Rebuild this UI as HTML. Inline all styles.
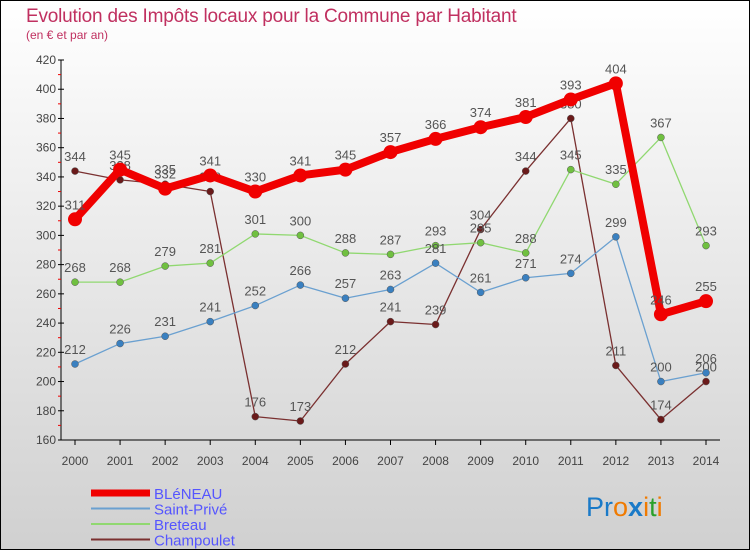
<!DOCTYPE html>
<html><head><meta charset="utf-8"><style>
body{margin:0}
svg{display:block}
text{font-family:"Liberation Sans",sans-serif}
</style></head><body>
<svg id="c" width="750" height="550" xmlns="http://www.w3.org/2000/svg">
<defs><linearGradient id="bg" x1="0" y1="0" x2="0" y2="1"><stop offset="0" stop-color="#ffffff"/><stop offset="1" stop-color="#d0d0d0"/></linearGradient></defs>
<rect x="0.5" y="0.5" width="749" height="549" fill="url(#bg)" stroke="#000"/>
<text x="26" y="22" font-size="19" fill="#c03060" letter-spacing="-0.2">Evolution des Impôts locaux pour la Commune par Habitant</text>
<text x="26" y="39" font-size="12" fill="#c03060">(en € et par an)</text>
<g id="axes"></g>
<g id="series"></g>
<g id="legend"></g>
<text x="586" y="516" font-size="27"><tspan fill="#1a7ac8">Pr</tspan><tspan fill="#f07a00">o</tspan><tspan fill="#1a7ac8" font-weight="bold">x</tspan><tspan fill="#f07a00">i</tspan><tspan fill="#2aa02a">t</tspan><tspan fill="#f07a00">i</tspan></text>
</svg>
<script>
const years=[2000,2001,2002,2003,2004,2005,2006,2007,2008,2009,2010,2011,2012,2013,2014];
const yTicks=[160,180,200,220,240,260,280,300,320,340,360,380,400,420];
const bleneau=[311,345,332,341,330,341,345,357,366,374,381,393,404,246,255];
const saintPrive=[212,226,231,241,252,266,257,263,281,261,271,274,299,200,206];
const breteau=[268,268,279,281,301,300,288,287,293,295,288,345,335,367,293];
const champoulet=[344,338,335,330,176,173,212,241,239,304,344,380,211,174,200];
const NS="http://www.w3.org/2000/svg";
const X=i=>75+i*(706-75)/(years.length-1);
const Y=v=>440-(v-160)*(380/260);
function mk(t,a,p){const e=document.createElementNS(NS,t);for(const k in a)e.setAttribute(k,a[k]);p.appendChild(e);return e;}
const ax=document.getElementById('axes');
const yl=mk('line',{x1:61,y1:60,x2:61,y2:440,stroke:'#000'},ax);


const xl=mk('line',{x1:61,y1:440,x2:720,y2:440,stroke:'#000'},ax);


yTicks.forEach((v,i)=>{
 mk('line',{x1:58,y1:Y(v),x2:64,y2:Y(v),stroke:'#000'},ax);
 if(i<yTicks.length-1) mk('line',{x1:58,y1:Y(v+10),x2:61,y2:Y(v+10),stroke:'#e00'},ax);
 const t=mk('text',{x:56,y:Y(v)+4,'font-size':12,'text-anchor':'end',fill:'#444'},ax);
 t.textContent=v;
 
 
});
years.forEach((y,i)=>{
 mk('line',{x1:X(i),y1:440,x2:X(i),y2:445,stroke:'#000'},ax);
 const t=mk('text',{x:X(i),y:465,'font-size':12,'text-anchor':'middle',fill:'#444'},ax);
 t.textContent=y;
 
 
});
const sg=document.getElementById('series');
const defs=[
 {d:champoulet,c:'#7a3030',dot:'#6a1a1a',w:1.3,r:3.5,n:'champoulet'},
 {d:breteau,c:'#90d870',dot:'#70c040',w:1.3,r:3.5,n:'breteau'},
 {d:saintPrive,c:'#6aa0d0',dot:'#3a80c0',w:1.3,r:3.5,n:'saint-prive'},
 {d:bleneau,c:'#f00000',dot:'#f00000',w:8,r:7,n:'bleneau'}
];
defs.forEach(s=>{
 const g=mk('g',{},sg);
 
 
 const l=mk('polyline',{points:s.d.map((v,i)=>X(i)+','+Y(v)).join(' '),fill:'none',stroke:s.c,'stroke-width':s.w,'stroke-linejoin':'round'},g);
 
 
 s.d.forEach((v,i)=>{
  const p=mk('circle',{cx:X(i),cy:Y(v),r:s.r,fill:s.dot,stroke:s.w>2?'none':'#555','stroke-width':0.5},g);
  
  
  const t=mk('text',{x:X(i),y:Y(v)-10,'font-size':13,'text-anchor':'middle',fill:'#555'},g);
  t.textContent=v;
  
  
 });
});
const lg=document.getElementById('legend');
[['BLéNEAU','#f00000',7],['Saint-Privé','#6aa0d0',2],['Breteau','#90d870',2],['Champoulet','#7a3030',2]].forEach((e,i)=>{
 const y=493+i*15.5;
 const l=mk('line',{x1:91,y1:y,x2:150,y2:y,stroke:e[1],'stroke-width':e[2]},lg);
 
 
 const t=mk('text',{x:154,y:y+6,'font-size':15,fill:'#5555ff'},lg);
 t.textContent=e[0];
 
 
});
</script>
</body></html>
